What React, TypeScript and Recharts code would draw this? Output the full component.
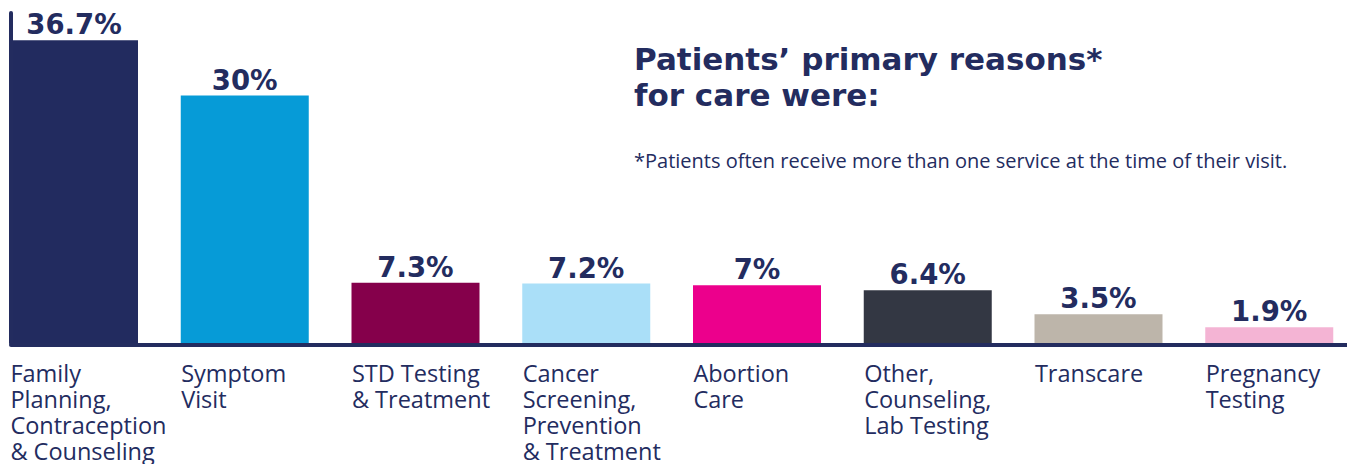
import { BarChart, Bar, XAxis, YAxis, Cell, LabelList } from 'recharts';

const categories = [
  'Family\nPlanning,\nContraception\n& Counseling',
  'Symptom\nVisit',
  'STD Testing\n& Treatment',
  'Cancer\nScreening,\nPrevention\n& Treatment',
  'Abortion\nCare',
  'Other,\nCounseling,\nLab Testing',
  'Transcare',
  'Pregnancy\nTesting',
];
const shares = [36.7, 30, 7.3, 7.2, 7, 6.4, 3.5, 1.9];
const barColors = ['#222b5f', '#069bd7', '#85004b', '#aadff8', '#ec008c', '#333743', '#bdb5aa', '#f4b4d4'];

const data = categories.map((name, i) => ({ name, value: shares[i] }));

const NAVY = '#232c5f';
const BAR_SIZE = 128;
const TEXT_FONT = '"Open Sans", Lato, sans-serif';
const BOLD_FONT = '"DejaVu Sans", "Open Sans", sans-serif';

// left-aligned multi-line label under each bar
const CategoryTick = ({ x, y, payload }: any) => {
  const lines = String(payload.value).split('\n');
  const left = x - BAR_SIZE / 2;
  return (
    <text x={left} y={y + 39} fill={NAVY} fontSize={23.5} fontFamily={TEXT_FONT} textAnchor="start">
      {lines.map((line, i) => (
        <tspan key={i} x={left} dy={i === 0 ? 0 : 26}>
          {line}
        </tspan>
      ))}
    </text>
  );
};

export default function App() {
  return (
    <div style={{ position: 'relative', width: 1347, height: 456 }}>
      <style>{'.recharts-surface { overflow: visible; }'}</style>
      <BarChart
        width={1347}
        height={456}
        data={data}
        margin={{ top: 5, right: 2, bottom: 0, left: 1 }}
      >
        <XAxis
          dataKey="name"
          height={121}
          interval={0}
          tickLine={false}
          tickSize={0}
          tickMargin={0}
          padding={{ left: -22, right: -2 }}
          axisLine={{ stroke: NAVY, strokeWidth: 4, strokeLinecap: 'round', transform: 'translate(0 2)' }}
          tick={<CategoryTick />}
        />
        <Bar dataKey="value" barSize={BAR_SIZE} isAnimationActive={false}>
          {data.map((d, i) => (
            <Cell key={d.name} fill={barColors[i]} />
          ))}
          <LabelList
            dataKey="value"
            position="top"
            offset={6}
            formatter={(v: any) => `${v}%`}
            fill={NAVY}
            fontSize={27.5}
            fontWeight={700}
            fontFamily={BOLD_FONT}
          />
        </Bar>
        <YAxis
          width={2}
          domain={[0, 40]}
          tick={false}
          tickLine={false}
          axisLine={{ stroke: NAVY, strokeWidth: 4, strokeLinecap: 'round' }}
        />
      </BarChart>
      <div
        style={{
          position: 'absolute',
          left: 626,
          top: 33,
          color: NAVY,
          fontFamily: BOLD_FONT,
          fontWeight: 700,
          fontSize: 31,
          lineHeight: '36px',
          whiteSpace: 'nowrap',
        }}
      >
        Patients’ primary reasons*
        <br />
        for care were:
      </div>
      <div
        style={{
          position: 'absolute',
          left: 626,
          top: 141,
          color: NAVY,
          fontFamily: TEXT_FONT,
          fontSize: 20,
          lineHeight: '24px',
          whiteSpace: 'nowrap',
        }}
      >
        *Patients often receive more than one service at the time of their visit.
      </div>
    </div>
  );
}
